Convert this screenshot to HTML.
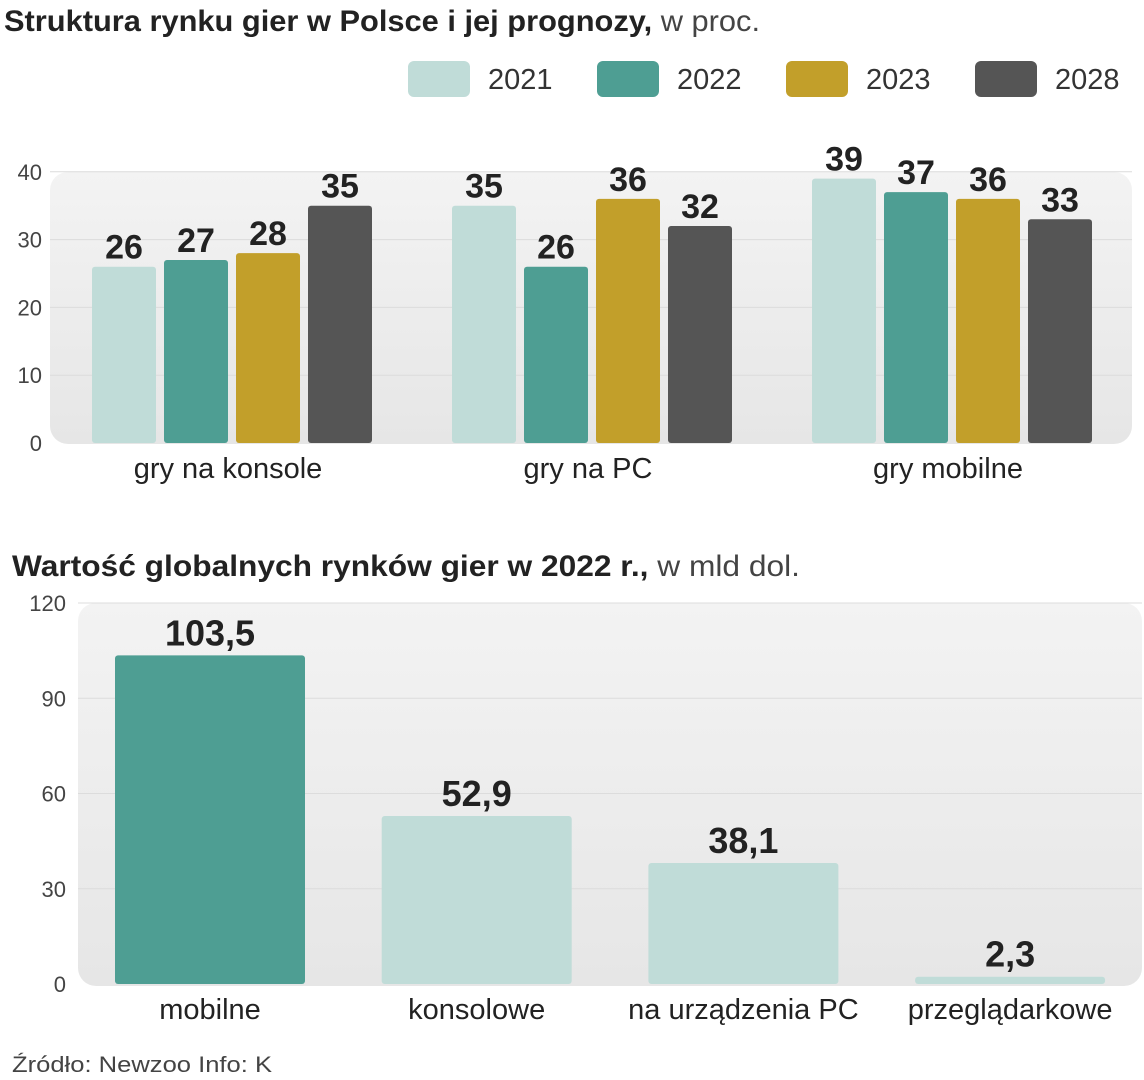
<!DOCTYPE html>
<html><head><meta charset="utf-8">
<style>
body{margin:0;background:#fff;width:1144px;height:1080px;overflow:hidden;font-family:"Liberation Sans",sans-serif;}
svg{display:block}
</style></head>
<body>
<svg id="chart" width="1144" height="1080" xmlns="http://www.w3.org/2000/svg">
<defs>
<linearGradient id="pg" x1="0" y1="0" x2="0" y2="1"><stop offset="0" stop-color="#f3f3f3"/><stop offset="1" stop-color="#e6e6e6"/></linearGradient>
</defs>
<text x="4" y="31" font-size="30" textLength="756" lengthAdjust="spacingAndGlyphs" fill="#222"><tspan font-weight="bold">Struktura rynku gier w Polsce i jej prognozy,</tspan><tspan fill="#444"> w proc.</tspan></text>
<g id="legend"></g>
<rect x="50" y="172" width="1082" height="272" rx="18" fill="url(#pg)"/>
<g id="top"></g>
<text x="12" y="576" font-size="30" textLength="788" lengthAdjust="spacingAndGlyphs" fill="#222"><tspan font-weight="bold">Wartość globalnych rynków  gier w 2022 r.,</tspan><tspan fill="#444"> w mld dol.</tspan></text>
<rect x="78" y="603" width="1064" height="383" rx="18" fill="url(#pg)"/>
<g id="bottom"></g>
<text x="12" y="1072" font-size="22" textLength="260" lengthAdjust="spacingAndGlyphs" fill="#444">Źródło: Newzoo  Info: K</text>
</svg>
<script>
const years=["2021","2022","2023","2028"];
const colors=["#c0dcd8","#4e9e93","#c29f2a","#555555"];
const topCats=["gry na konsole","gry na PC","gry mobilne"];
const s2021=[26,35,39];
const s2022=[27,26,37];
const s2023=[28,36,36];
const s2028=[35,32,33];
const topTicks=[0,10,20,30,40];
const botCats=["mobilne","konsolowe","na urządzenia PC","przeglądarkowe"];
const botVals=[103.5,52.9,38.1,2.3];
const botLabels=["103,5","52,9","38,1","2,3"];
const botTicks=[0,30,60,90,120];
const NS="http://www.w3.org/2000/svg";
function mk(tag,attrs,parent,txt){const e=document.createElementNS(NS,tag);for(const k in attrs)e.setAttribute(k,attrs[k]);if(txt!==undefined)e.textContent=txt;parent.appendChild(e);return e;}
const lg=document.getElementById('legend');
years.forEach((y,i)=>{const x=408+i*189;
 const r=mk('rect',{x:x,y:61,width:62,height:36,rx:6,fill:colors[i]},lg);
 
 
 const t=mk('text',{x:x+80,y:89,'font-size':29,fill:'#333'},lg,y);
 
 
});
const tg=document.getElementById('top');
const ty=v=>443-v*6.78;
topTicks.forEach(v=>{
 if(v>0){const l=mk('line',{x1:50,x2:1132,y1:ty(v),y2:ty(v),stroke:'#dcdcdc','stroke-width':1},tg);}
 const t=mk('text',{x:42,y:ty(v)+8,'font-size':22,fill:'#444','text-anchor':'end'},tg,v);
 
 
});
const series=[s2021,s2022,s2023,s2028];
topCats.forEach((c,ci)=>{
 series.forEach((s,si)=>{
  const x=92+ci*360+si*72,v=s[ci];
  const b=mk('rect',{x:x,y:ty(v),width:64,height:443-ty(v),rx:3,fill:colors[si]},tg);
  
  
  const t=mk('text',{x:x+32,y:ty(v)-8,'font-size':34,'font-weight':'bold',fill:'#222','text-anchor':'middle'},tg,v);
  
  
 });
 const t=mk('text',{x:92+ci*360+136,y:478,'font-size':29,fill:'#222','text-anchor':'middle'},tg,c);
 
 
});
const bg=document.getElementById('bottom');
const by=v=>984-v*(381/120);
botTicks.forEach(v=>{
 if(v>0){const l=mk('line',{x1:78,x2:1142,y1:by(v),y2:by(v),stroke:'#dcdcdc','stroke-width':1},bg);}
 const t=mk('text',{x:66,y:by(v)+8,'font-size':22,fill:'#444','text-anchor':'end'},bg,v);
 
 
});
botCats.forEach((c,i)=>{
 const x=115+i*266.7,v=botVals[i];
 const b=mk('rect',{x:x,y:by(v),width:190,height:984-by(v),rx:3,fill:i===0?colors[1]:colors[0]},bg);
 
 
 const t=mk('text',{x:x+95,y:by(v)-10,'font-size':36,'font-weight':'bold',fill:'#222','text-anchor':'middle'},bg,botLabels[i]);
 
 
 const l=mk('text',{x:x+95,y:1019,'font-size':29,fill:'#222','text-anchor':'middle'},bg,c);
 
 
});
</script>
</body></html>
